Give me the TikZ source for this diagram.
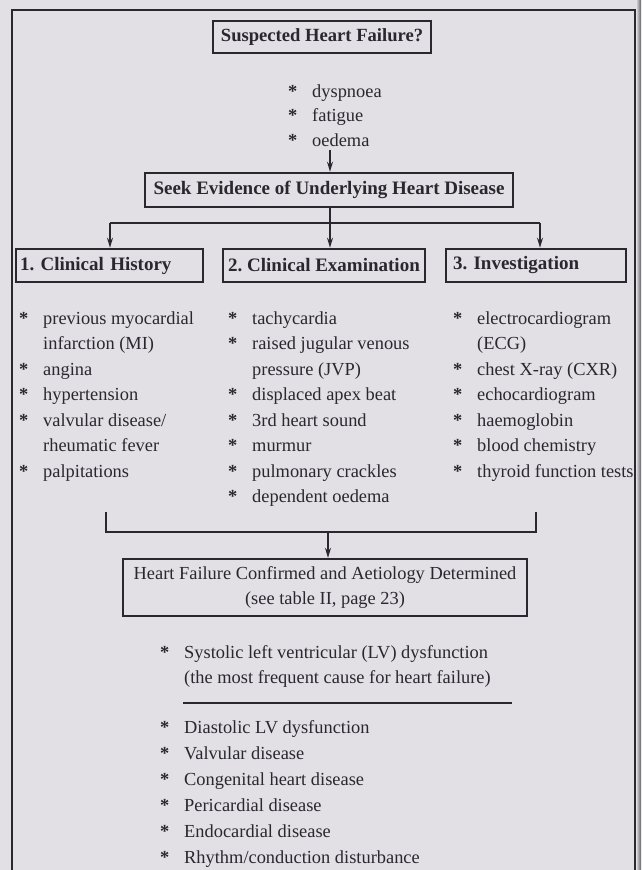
\documentclass[tikz,border=0pt]{standalone}
\usepackage{fontspec}
\setmainfont{Liberation Serif}
\usetikzlibrary{arrows.meta}
\definecolor{paper}{RGB}{226,224,229}
\definecolor{ink}{RGB}{40,40,46}
\definecolor{gutter}{RGB}{95,95,100}
\frenchspacing
\newcommand{\bul}[1]{\makebox[24pt][l]{\bfseries #1}}
\begin{document}
\begin{tikzpicture}[x=1pt,y=-1pt,
  hbox/.style={draw=ink, line width=2.6pt, inner sep=0pt, text=ink,
    font=\bfseries\fontsize{19}{22}\selectfont},
  hfbox/.style={draw=ink, line width=2.3pt, inner sep=0pt, text=ink, align=center,
    font=\fontsize{18.4}{25}\selectfont},
  item/.style={anchor=base west, inner sep=0pt, text=ink,
    font=\fontsize{18.4}{22}\selectfont},
  conn/.style={draw=ink, line width=1.3pt},
  arr/.style={conn, -{Stealth[length=10pt,width=6pt]}},
  frame/.style={draw=ink, line width=1.5pt}]
\fill[paper] (0,0) rectangle (641,870);
\useasboundingbox (0,0) rectangle (641,870);
\clip (0,0) rectangle (641,870);
\shade[left color=paper, right color=gutter] (636,0) rectangle (641,870);
% outer frame
\draw[frame] (12,880) -- (12,10) -- (635,10) -- (635,880);

% boxes
\node[hbox, minimum width=218pt, minimum height=32pt, font=\bfseries\fontsize{18.6}{22}\selectfont] (sus) at (322,37) {Suspected Heart Failure?};
\node[hbox, minimum width=368pt, minimum height=34pt] (seek) at (329,190) {Seek Evidence of Underlying Heart Disease};
\node[hbox, minimum height=33pt, inner xsep=4pt, text width=179pt, align=left] (b1) at (109.5,265.5) {1. Clinical History};
\node[hbox, minimum width=202pt, minimum height=33pt] (b2) at (324,265.5) {2. Clinical Examination};
\node[hbox, minimum height=33pt, inner xsep=7pt, text width=166pt, align=left] (b3) at (536,265.5) {3. Investigation};
\node[hfbox, minimum width=404pt, minimum height=57pt] (hf) at (325,587.5) {Heart Failure Confirmed and Aetiology Determined\\(see table II, page 23)};

% lists
\foreach \s/\t [count=\i] in {*/dyspnoea,*/fatigue,*/oedema}
  \node[item] (top\i) at (288,{97+24.5*(\i-1)}) {\bul{\s}\t};
\foreach \s/\t [count=\i] in {*/previous myocardial,/infarction (MI),*/angina,*/hypertension,*/{valvular disease/},/rheumatic fever,*/palpitations}
  \node[item] (ca\i) at (19,{324+25.5*(\i-1)}) {\bul{\s}\t};
\foreach \s/\t [count=\i] in {*/tachycardia,*/raised jugular venous,/pressure (JVP),*/displaced apex beat,*/3rd heart sound,*/murmur,*/pulmonary crackles,*/dependent oedema}
  \node[item] (cb\i) at (228,{324+25.5*(\i-1)}) {\bul{\s}\t};
\foreach \s/\t [count=\i] in {*/electrocardiogram,/(ECG),*/chest X-ray (CXR),*/echocardiogram,*/haemoglobin,*/blood chemistry,*/thyroid function tests}
  \node[item] (cc\i) at (453,{324+25.5*(\i-1)}) {\bul{\s}\t};
\foreach \s/\t [count=\i] in {*/Systolic left ventricular (LV) dysfunction,/(the most frequent cause for heart failure)}
  \node[item] (sy\i) at (160,{658+25*(\i-1)}) {\bul{\s}\t};
\foreach \s/\t [count=\i] in {*/Diastolic LV dysfunction,*/Valvular disease,*/Congenital heart disease,*/Pericardial disease,*/Endocardial disease,*/{Rhythm/conduction disturbance}}
  \node[item] (ot\i) at (160,{733+26*(\i-1)}) {\bul{\s}\t};

% connectors
\coordinate (a0) at (330,150);
\draw[arr] (a0) -- (a0 |- seek.north);
\coordinate (split) at (330,223);
\coordinate (jl) at (110,223);
\coordinate (jr) at (540,223);
\draw[conn] (seek.south -| split) -- (split);
\draw[conn] (jl) -- (jr);
\draw[arr] (jl) -- (jl |- b1.north);
\draw[arr] (split) -- (split |- b2.north);
\draw[arr] (jr) -- (jr |- b3.north);

\coordinate (bl) at (106,512);
\coordinate (br) at (536,512);
\coordinate (bm) at (328,532);
\draw[conn] (bl) -- (bl |- bm) -- (br |- bm) -- (br);
\draw[arr] (bm) -- (bm |- hf.north);

\coordinate (hl) at (183,703);
\coordinate (hr) at (512,703);
\draw[conn] (hl) -- (hr);
\end{tikzpicture}
\end{document}
